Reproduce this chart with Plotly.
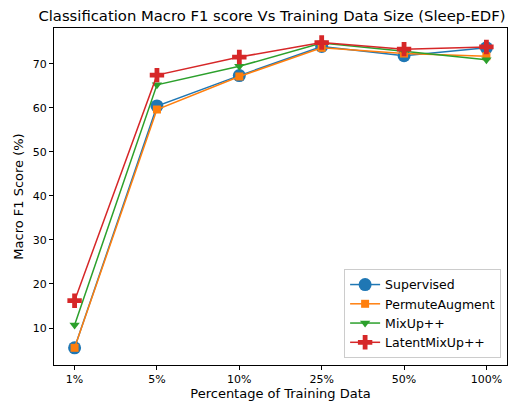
import plotly.graph_objects as go

categories = ["1%", "5%", "10%", "25%", "50%", "100%"]
supervised = [5.5, 60.4, 67.3, 73.9, 71.8, 73.6]
permute = [5.5, 59.6, 67.1, 73.6, 72.3, 71.7]
mixup = [10.7, 65.2, 69.4, 74.7, 72.8, 70.9]
latent = [16.2, 67.4, 71.5, 74.8, 73.3, 73.8]

series = [
    ("Supervised", supervised, "#1f77b4", "circle", 13),
    ("PermuteAugment", permute, "#ff7f0e", "square", 8),
    ("MixUp++", mixup, "#2ca02c", "triangle-down", 9),
    ("LatentMixUp++", latent, "#d62728", "cross", 12),
]

fig = go.Figure()
xs = list(range(len(categories)))
for name, vals, color, sym, size in series:
    fig.add_trace(go.Scatter(
        x=xs, y=vals, name=name, mode="lines+markers",
        line=dict(color=color, width=1.5),
        marker=dict(symbol=sym, size=size, color=color, line=dict(width=0)),
    ))

font = "DejaVu Sans"
fig.update_layout(
    width=522, height=407,
    margin=dict(l=54, r=15, t=28, b=42, autoexpand=False),
    paper_bgcolor="white", plot_bgcolor="white",
    font=dict(family=font, size=11, color="black"),
    title=dict(text="Classification Macro F1 score Vs Training Data Size (Sleep-EDF)",
               x=0.521, xanchor="center", y=1 - 15.5 / 407, yanchor="middle",
               font=dict(size=14.8, family=font), automargin=False),
    showlegend=True,
    legend=dict(x=0.987, y=0.021, xanchor="right", yanchor="bottom",
                bordercolor="#cccccc", borderwidth=1, bgcolor="rgba(255,255,255,0.8)",
                font=dict(size=12.5), tracegroupgap=0),
)
fig.update_xaxes(
    tickmode="array", tickvals=xs, ticktext=categories,
    range=[-0.25, 5.25], showgrid=False, zeroline=False,
    showline=True, linecolor="black", linewidth=1, mirror=True,
    ticks="outside", ticklen=4, tickcolor="black", automargin=False,
    title=dict(text="Percentage of Training Data", standoff=3),
)
fig.update_yaxes(
    range=[1.6, 78.1], tickvals=[10, 20, 30, 40, 50, 60, 70],
    showgrid=False, zeroline=False,
    showline=True, linecolor="black", linewidth=1, mirror=True,
    ticks="outside", ticklen=4, tickcolor="black", automargin=False,
    title=dict(text="Macro F1 Score (%)", standoff=6),
)
fig.write_html("out.html", config={"displayModeBar": False},
               post_script="document.body.style.margin='0px';")
